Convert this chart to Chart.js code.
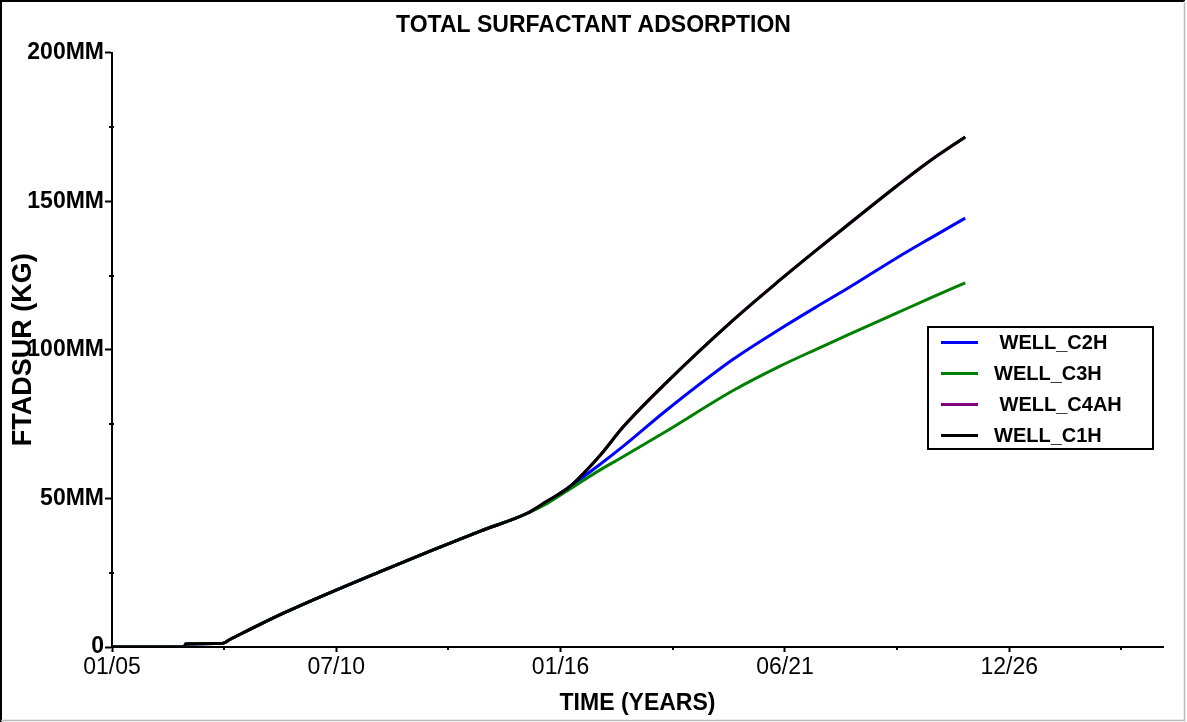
<!DOCTYPE html>
<html>
<head>
<meta charset="utf-8">
<script src="https://cdn.jsdelivr.net/npm/chart.js@4.4.0/dist/chart.umd.min.js"></script>
<style>
  html, body { margin: 0; padding: 0; background: #fff; }
  #wrap { width: 1187px; height: 722px; }
</style>
</head>
<body>
<div id="wrap"><canvas id="chart" width="1187" height="722"></canvas></div>
<script>
// Tempo em anos desde 01/2005, valores em milhões de kg (MM)
const years = [0, 1.78, 1.80, 2.70, 2.90, 4.19, 6.65, 9.03, 10.18, 10.67, 11.23, 11.97, 12.53,
               13.58, 15.23, 16.38, 17.24, 18.03, 19.25, 20.06, 20.92];

const wellC2H  = [0, 0, 1.0, 1.2, 2.6, 11.3, 25.8, 39.0, 45.0, 48.8, 54.0, 61.5, 67.5,
                  79.5, 96.8, 107.0, 114.2, 120.6, 131.0, 137.5, 144.3];
const wellC3H  = [0, 0, 1.0, 1.2, 2.6, 11.3, 25.8, 39.0, 45.0, 48.3, 53.2, 59.6, 64.0,
                  72.5, 86.3, 94.5, 100.0, 104.9, 112.4, 117.4, 122.5];
const wellC4AH = [0, 0, 1.0, 1.2, 2.6, 11.3, 25.8, 39.0, 45.0, 49.1, 54.0, 64.5, 74.0,
                  88.8, 110.0, 123.5, 133.2, 141.9, 155.2, 163.6, 171.6];
const wellC1H  = [0, 0, 1.0, 1.2, 2.6, 11.3, 25.8, 39.0, 45.0, 49.1, 54.0, 64.5, 74.0,
                  88.8, 110.0, 123.5, 133.2, 141.9, 155.2, 163.6, 171.6];

const seriesLabels = [' WELL_C2H', 'WELL_C3H', ' WELL_C4AH', 'WELL_C1H'];

const xTickValues = [0, 5.5, 11, 16.5, 22];
const xTickLabels = ['01/05', '07/10', '01/16', '06/21', '12/26'];
const xMinorTicks = [2.75, 8.25, 13.75, 19.25, 24.75];
const yMinorTicks = [25, 75, 125, 175];

const FONT = "'Liberation Sans', Arial, Helvetica, sans-serif";
Chart.defaults.font.family = FONT;
Chart.defaults.color = '#000';

const toPoints = vals => vals.map((v, i) => ({ x: years[i], y: v }));

// fundo branco + moldura da figura
const frame = {
  id: 'frame',
  beforeDraw(chart) {
    const { ctx, width, height } = chart;
    ctx.save();
    ctx.fillStyle = '#fff';
    ctx.fillRect(0, 0, width, height);
    ctx.strokeStyle = '#000';
    ctx.lineWidth = 2;
    ctx.beginPath();
    ctx.moveTo(1, height); ctx.lineTo(1, 1); ctx.lineTo(width - 2, 1);
    ctx.stroke();
    ctx.strokeStyle = '#bbb';
    ctx.lineWidth = 1.5;
    ctx.beginPath();
    ctx.moveTo(width - 2.5, 1); ctx.lineTo(width - 2.5, height - 1.5); ctx.lineTo(1, height - 1.5);
    ctx.stroke();
    ctx.restore();
  },
};

// ticks menores nos dois eixos
const minorTicks = {
  id: 'minorTicks',
  afterDraw(chart) {
    const { ctx, scales: { x, y } } = chart;
    ctx.save();
    ctx.strokeStyle = '#000';
    ctx.lineWidth = 2;
    xMinorTicks.forEach(v => {
      const px = Math.round(x.getPixelForValue(v));
      ctx.beginPath();
      ctx.moveTo(px, y.bottom);
      ctx.lineTo(px, y.bottom + 3);
      ctx.stroke();
    });
    yMinorTicks.forEach(v => {
      const py = Math.round(y.getPixelForValue(v));
      ctx.beginPath();
      ctx.moveTo(x.left - 3, py);
      ctx.lineTo(x.left + 2, py);
      ctx.stroke();
    });
    ctx.restore();
  },
};

// legenda dentro da área do gráfico, com moldura
const boxLegend = {
  id: 'boxLegend',
  afterDraw(chart) {
    const { ctx } = chart;
    const bx = 928, by = 327, bw = 225, bh = 122;
    ctx.save();
    ctx.fillStyle = '#fff';
    ctx.fillRect(bx, by, bw, bh);
    ctx.strokeStyle = '#000';
    ctx.lineWidth = 2;
    ctx.strokeRect(bx, by, bw, bh);
    ctx.font = `bold 20px ${FONT}`;
    ctx.textBaseline = 'middle';
    ctx.textAlign = 'left';
    chart.data.datasets.forEach((ds, i) => {
      const ly = 342.5 + i * 31;
      ctx.strokeStyle = ds.borderColor;
      ctx.lineWidth = 3;
      ctx.beginPath();
      ctx.moveTo(941, ly);
      ctx.lineTo(978, ly);
      ctx.stroke();
      ctx.fillStyle = '#000';
      ctx.fillText(ds.label, 994, ly + 1);
    });
    ctx.restore();
  },
};

const lineStyle = { borderWidth: 3, pointRadius: 0, fill: false, cubicInterpolationMode: 'monotone' };

new Chart(document.getElementById('chart'), {
  type: 'line',
  data: {
    datasets: [
      { label: seriesLabels[0], data: toPoints(wellC2H),  borderColor: '#0000ff', order: 2, ...lineStyle },
      { label: seriesLabels[1], data: toPoints(wellC3H),  borderColor: '#008000', order: 1, ...lineStyle },
      { label: seriesLabels[2], data: toPoints(wellC4AH), borderColor: '#800080', order: 3, ...lineStyle },
      { label: seriesLabels[3], data: toPoints(wellC1H),  borderColor: '#000000', order: 0, ...lineStyle },
    ],
  },
  options: {
    responsive: false,
    animation: false,
    layout: { padding: { left: 24, right: 24, top: 4, bottom: 0 } },
    plugins: {
      legend: { display: false },
      tooltip: { enabled: false },
      title: {
        display: true,
        text: 'TOTAL SURFACTANT ADSORPTION',
        color: '#000',
        font: { size: 23, weight: 'bold' },
        padding: { top: 8, bottom: 13 },
      },
    },
    scales: {
      x: {
        type: 'linear',
        min: 0,
        max: 25.77,
        border: { color: '#000', width: 2 },
        grid: { drawOnChartArea: false, tickLength: 5, tickWidth: 2, tickColor: '#000' },
        afterBuildTicks: s => { s.ticks = xTickValues.map(v => ({ value: v })); },
        afterFit: s => { s.height = 75; },
        ticks: {
          autoSkip: false,
          maxRotation: 0,
          padding: 2,
          color: '#000',
          font: { size: 23 },
          callback: (v, i) => xTickLabels[i],
        },
        title: {
          display: true,
          text: 'TIME (YEARS)',
          color: '#000',
          font: { size: 23, weight: 'bold' },
          padding: { top: 0, bottom: 5 },
        },
      },
      y: {
        min: 0,
        max: 200,
        border: { color: '#000', width: 2 },
        grid: { drawOnChartArea: false, tickLength: 7, tickWidth: 2, tickColor: '#000' },
        afterFit: s => { s.width = 88; },
        ticks: {
          stepSize: 50,
          padding: 1,
          color: '#000',
          font: { size: 23, weight: 'bold' },
          callback: v => (v === 0 ? '0' : v + 'MM'),
        },
        title: {
          display: true,
          text: 'FTADSUR (KG)',
          color: '#000',
          font: { size: 27, weight: 'bold' },
          padding: { top: -17, bottom: 0 },
        },
      },
    },
  },
  plugins: [frame, minorTicks, boxLegend],
});
</script>
</body>
</html>
